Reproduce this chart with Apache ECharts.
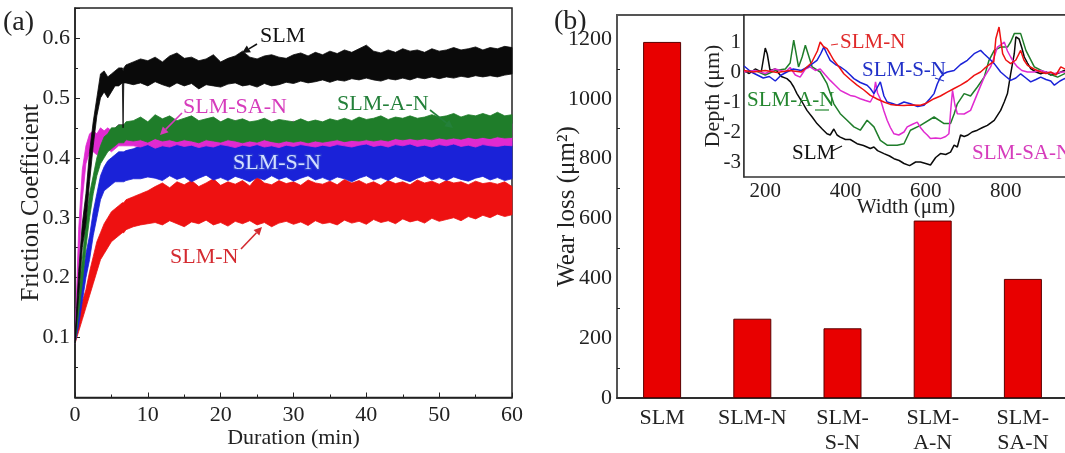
<!DOCTYPE html>
<html>
<head>
<meta charset="utf-8">
<script src="https://cdn.jsdelivr.net/npm/echarts@6/dist/echarts.min.js"></script>
<style>
html,body{margin:0;padding:0;background:#fff}
#chart{width:1065px;height:453px}
</style>
</head>
<body>
<div id="chart"></div>
<script>
// ---------- (a) friction coefficient: lower / upper envelope of each noisy trace ----------
const minutes = [0,0.5,1,1.5,2,2.5,3,3.5,4,4.5,5,5.5,6,6.5,6.6,6.7,7,
  8,9,10,11,12,13,14,15,16,17,18,19,20,21,22,23,24,25,26,27,28,29,30,31,32,33,34,35,36,37,38,39,40,
  41,42,43,44,45,46,47,48,49,50,51,52,53,54,55,56,57,58,59,60];

const slmLo = [.09,.17,.25,.29,.36,.42,.47,.50,.51,.50,.51,.52,.52,.525,.45,.525,.525,
  .522,.525,.520,.527,.522,.518,.525,.520,.524,.515,.522,.520,.518,.523,.525,.520,.522,.518,.524,.520,
  .522,.526,.524,.528,.525,.527,.530,.526,.530,.528,.532,.530,.533,.530,.528,.532,.530,.533,.530,.534,
  .532,.535,.532,.535,.533,.536,.534,.537,.535,.537,.535,.538,.540];
const slmHi = [.10,.21,.29,.34,.41,.46,.50,.54,.545,.535,.54,.545,.55,.55,.545,.55,.555,
  .560,.565,.562,.568,.560,.570,.575,.566,.568,.562,.565,.572,.560,.566,.570,.578,.568,.565,.570,.572,
  .568,.566,.572,.575,.570,.576,.572,.578,.574,.580,.576,.582,.588,.578,.575,.580,.576,.582,.578,.580,
  .576,.582,.578,.580,.584,.580,.582,.585,.580,.584,.582,.586,.584];

const slmANLo = [.09,.14,.19,.25,.30,.34,.37,.39,.40,.41,.415,.42,.425,.425,.425,.425,.43,
  .428,.430,.426,.432,.428,.430,.427,.430,.428,.425,.430,.428,.426,.430,.428,.425,.428,.426,.430,.427,
  .425,.428,.426,.428,.425,.428,.426,.428,.430,.427,.429,.428,.430,.428,.430,.428,.432,.430,.432,.430,
  .432,.430,.433,.431,.433,.431,.434,.432,.434,.432,.435,.433,.434];
const slmANHi = [.10,.17,.23,.29,.34,.37,.40,.42,.435,.44,.45,.45,.455,.455,.455,.455,.46,
  .462,.468,.460,.472,.465,.470,.462,.466,.470,.462,.465,.468,.460,.466,.462,.465,.460,.462,.466,.460,
  .464,.462,.460,.465,.460,.463,.460,.465,.462,.466,.462,.468,.464,.466,.470,.464,.468,.466,.470,.466,
  .468,.472,.468,.470,.474,.468,.472,.470,.474,.470,.476,.470,.472];

const slmSANLo = [.09,.22,.33,.39,.41,.41,.405,.41,.41,.415,.41,.415,.42,.42,.42,.42,.42,
  .420,.418,.422,.416,.420,.418,.422,.419,.421,.417,.420,.418,.422,.420,.417,.421,.419,.422,.418,.420,
  .417,.421,.419,.422,.420,.418,.421,.419,.422,.420,.418,.421,.423,.419,.421,.418,.422,.420,.423,.419,
  .421,.418,.422,.420,.423,.419,.421,.418,.422,.420,.419,.421,.420];
const slmSANHi = [.10,.28,.38,.42,.44,.445,.44,.45,.445,.45,.445,.45,.455,.455,.455,.455,.455,
  .455,.460,.452,.458,.462,.455,.459,.454,.461,.456,.458,.452,.460,.456,.462,.455,.458,.453,.460,.456,
  .459,.454,.461,.457,.455,.460,.458,.462,.456,.459,.454,.461,.458,.463,.456,.460,.455,.462,.458,.461,
  .456,.463,.458,.460,.455,.462,.457,.460,.456,.461,.458,.460,.457];

const slmSNLo = [.09,.12,.16,.20,.23,.27,.30,.33,.345,.35,.355,.36,.36,.36,.36,.36,.362,
  .365,.365,.368,
  .366,.362,.370,.364,.368,.360,.366,.371,.363,.367,.362,.369,.365,.360,.367,.363,.370,.364,.368,.361,
  .366,.370,.363,.367,.362,.368,.365,.360,.366,.370,.363,.367,.362,.369,.364,.360,.366,.370,.363,.367,
  .362,.368,.364,.361,.366,.369,.363,.367,.362,.365];
const slmSNHi = [.10,.15,.20,.24,.27,.31,.34,.37,.385,.395,.40,.405,.41,.41,.41,.41,.412,
  .415,.420,.422,
  .428,.432,.425,.430,.434,.427,.431,.426,.433,.428,.430,.425,.432,.428,.435,.427,.430,.424,.431,.428,
  .433,.426,.430,.427,.432,.428,.434,.426,.430,.428,.433,.425,.431,.427,.432,.428,.430,.426,.433,.428,
  .431,.425,.430,.427,.432,.428,.429,.426,.431,.428];

const slmNLo = [.09,.11,.13,.15,.17,.19,.21,.23,.24,.25,.26,.265,.27,.275,.275,.275,.28,
  .285,.288,.290,
  .292,.288,.295,.290,.285,.293,.290,.296,.288,.292,.286,.294,.290,.295,.288,.292,.285,.291,.294,.289,
  .293,.287,.295,.290,.292,.288,.296,.291,.294,.289,.297,.292,.295,.290,.298,.293,.296,.291,.299,.294,
  .297,.300,.295,.302,.298,.304,.300,.306,.302,.305];
const slmNHi = [.10,.13,.16,.18,.21,.235,.26,.275,.29,.30,.31,.315,.32,.325,.325,.325,.33,
  .335,.340,.345,
  .352,.358,.350,.360,.355,.362,.352,.358,.365,.354,.360,.356,.362,.353,.368,.358,.355,.362,.357,.360,
  .354,.363,.358,.356,.361,.355,.364,.358,.362,.356,.360,.354,.362,.357,.360,.355,.363,.358,.361,.356,
  .362,.358,.360,.355,.361,.357,.359,.356,.360,.352];

// ---------- (b) wear loss ----------
const samples = ['SLM', 'SLM-N', 'SLM-\nS-N', 'SLM-\nA-N', 'SLM-\nSA-N'];
const wearLoss = [1190, 265, 233, 593, 398];

// ---------- (b) inset: cross-section depth profiles of the wear tracks ----------
const slmW = [147,160,175,190,200,205,212,225,240,254,263,271,279,292,304,317,329,342,354,362,371,379,387,400,412,
  429,445,462,471,480,496,510,521,534,546,560,575,587,600,612,625,637,650,662,671,679,687,696,704,716,729,742,754,
  771,787,796,804,812,821,825,833,840,846,854,862,875,887,900,912,929,946,955];
const slmD = [0.05,-0.05,0.1,0.0,0.8,0.6,0.05,0.1,-0.15,-0.22,-0.33,-0.5,-0.72,-1.0,-1.28,-1.5,-1.72,-1.9,-2.06,-2.1,
  -1.9,-2.1,-2.17,-2.25,-2.25,-2.39,-2.45,-2.55,-2.5,-2.62,-2.72,-2.8,-2.89,-2.95,-3.05,-3.12,-3.0,-3.0,-3.05,-3.1,
  -2.85,-2.72,-2.75,-2.67,-2.44,-2.5,-2.1,-2.15,-2.11,-2.0,-1.94,-1.85,-1.78,-1.61,-1.28,-1.0,-0.72,-0.06,0.61,1.17,
  1.1,0.8,0.5,0.3,0.11,0.0,-0.06,0.0,-0.1,-0.05,0.05,0.0];

const slmNW = [147,170,200,230,260,290,315,330,337,345,354,362,371,385,396,412,429,446,462,479,496,512,529,546,562,
  587,600,621,637,654,671,687,704,721,737,746,762,770,775,783,792,800,812,825,837,845,854,870,887,900,912,925,937,955];
const slmND = [0.05,0.0,0.05,-0.02,0.05,0.0,0.3,0.7,1.0,0.85,0.78,0.6,0.39,0.15,-0.06,-0.25,-0.44,-0.6,-0.78,-0.9,
  -1.0,-1.08,-1.11,-1.12,-1.1,-1.11,-1.05,-0.89,-0.8,-0.67,-0.55,-0.44,-0.3,-0.11,0.0,0.11,0.28,0.35,1.11,1.5,
  0.61,0.4,0.28,0.4,0.72,0.4,0.22,0.1,0.0,-0.05,0.0,-0.1,0.17,0.05];

const slmSNW = [147,165,180,195,210,225,240,254,270,290,310,329,338,346,354,362,375,387,400,412,421,437,454,462,471,
  480,487,496,504,517,529,546,562,580,596,610,621,629,637,646,654,671,687,704,721,737,746,754,762,771,787,800,812,
  825,837,850,862,875,887,900,912,921,935,946,955];
const slmSND = [0.2,0.0,-0.1,-0.2,-0.15,-0.3,-0.1,0.0,0.1,0.05,0.2,0.39,0.6,0.83,0.6,0.39,0.25,0.17,0.05,-0.1,
  -0.22,-0.35,-0.44,-0.55,-0.72,-0.5,-0.33,-0.8,-1.0,-1.05,-1.11,-1.0,-1.06,-1.15,-1.11,-0.9,-0.72,-0.4,-0.17,-0.05,
  0.0,0.05,0.25,0.39,0.61,0.72,0.6,0.5,0.4,0.28,0.0,-0.15,-0.28,-0.2,-0.06,-0.2,-0.33,-0.25,-0.17,-0.25,
  -0.3,-0.44,-0.3,-0.22,-0.25];

const slmANW = [147,175,200,225,250,262,271,283,292,300,317,337,354,371,387,404,421,437,454,471,487,504,529,546,562,
  587,621,646,662,671,679,696,712,729,746,758,771,787,804,812,821,837,850,871,896,929,955];
const slmAND = [0.0,0.05,-0.1,0.05,0.1,0.3,1.06,0.17,0.5,0.89,0.17,0.0,-0.39,-1.06,-1.39,-1.61,-1.83,-1.94,-1.61,-1.83,
  -2.28,-2.44,-2.44,-2.39,-1.94,-1.78,-1.5,-1.72,-1.72,-1.4,-1.06,-0.72,-0.8,-0.5,-0.17,0.39,0.72,0.83,0.83,1.0,
  1.28,1.28,0.72,0.17,0.0,-0.17,0.0];

const slmSANW = [147,175,200,225,250,262,275,287,300,312,325,337,350,362,375,387,400,412,425,437,450,462,470,475,480,
  487,496,504,512,521,533,546,554,566,579,587,596,604,612,625,637,650,658,663,667,673,679,696,712,729,746,762,771,
  779,787,796,804,812,821,829,840,854,870,887,900,921,940,955];
const slmSAND = [0.0,0.05,-0.05,0.1,0.0,0.15,-0.1,-0.17,0.1,0.17,0.05,0.1,-0.1,-0.28,-0.45,-0.61,-0.7,-0.78,-0.82,-0.89,
  -0.95,-1.0,-0.8,-0.33,-0.7,-0.9,-1.3,-1.61,-1.85,-2.06,-2.1,-2.0,-1.83,-1.75,-1.67,-1.85,-2.0,-2.1,-2.22,-2.2,
  -2.22,-2.15,-2.06,-1.2,-0.61,-1.1,-1.39,-1.4,-1.28,-0.72,-0.17,0.17,0.5,0.83,0.9,1.0,0.7,0.5,0.3,0.17,
  0.05,0.0,0.0,0.05,0.0,-0.05,0.0,0.0];

// ---------- styling ----------
const SERIF = '"Liberation Serif", "Times New Roman", serif';
const C = { black: '#0a0a0a', red: '#ee1111', blue: '#1a22d8', green: '#1f7d2a', magenta: '#e02ad0' };
const txt = (size, color) => ({ fontFamily: SERIF, fontSize: size, color: color || '#222' });
const axisLine = { lineStyle: { color: '#222', width: 1.5 } };

// filled envelope drawn as one polygon through the axis scales
function band(name, lo, hi, color) {
  const rows = minutes.map((t, i) => [t, lo[i], hi[i]]);
  return {
    type: 'custom', name, xAxisIndex: 0, yAxisIndex: 0, data: rows,
    encode: { x: 0, y: [1, 2] }, silent: true,
    renderItem(params, api) {
      if (params.dataIndex !== 0) return null;
      const top = rows.map(r => api.coord([r[0], r[2]]));
      const bottom = rows.map(r => api.coord([r[0], r[1]])).reverse();
      return {
        type: 'polygon',
        shape: { points: top.concat(bottom) },
        style: { fill: color, stroke: color, lineWidth: 0.8 }
      };
    }
  };
}

function profile(name, w, d, color) {
  return {
    type: 'line', name, xAxisIndex: 2, yAxisIndex: 2, showSymbol: false, silent: true,
    data: w.map((x, i) => [x, d[i]]),
    lineStyle: { color, width: 1.5 }, z: 5
  };
}

function arrow(x1, y1, x2, y2, color) {
  const a = Math.atan2(y2 - y1, x2 - x1), L = 8, W = 4;
  const bx = x2 - L * Math.cos(a), by = y2 - L * Math.sin(a);
  const px = -Math.sin(a) * W, py = Math.cos(a) * W;
  return [
    { type: 'line', shape: { x1, y1, x2: bx, y2: by }, style: { stroke: color, lineWidth: 1.6 }, z: 100 },
    { type: 'polygon', shape: { points: [[x2, y2], [bx + px, by + py], [bx - px, by - py]] }, style: { fill: color }, z: 100 }
  ];
}
function label(text, x, y, size, color, extra) {
  return {
    type: 'text', x, y, z: 100,
    style: Object.assign({ text, fill: color, font: size + 'px ' + SERIF, verticalAlign: 'middle' }, extra || {})
  };
}

const chart = echarts.init(document.getElementById('chart'), null, { renderer: 'canvas' });

chart.setOption({
  animation: false,
  backgroundColor: '#fff',
  grid: [
    { left: 75, top: 8, width: 437, height: 389.5, show: true, borderColor: '#222', borderWidth: 1.5, outerBoundsMode: 'none', containLabel: false },
    { left: 617, top: 15, right: -3, height: 383, show: true, borderColor: '#555', borderWidth: 2, outerBoundsMode: 'none', containLabel: false },
    { left: 744, top: 15, right: -3, height: 162, show: true, backgroundColor: '#fff', borderColor: '#333', borderWidth: 1.5, z: 3, outerBoundsMode: 'none', containLabel: false }
  ],
  xAxis: [
    {
      gridIndex: 0, type: 'value', min: 0, max: 60, interval: 10,
      axisLine, splitLine: { show: false },
      axisTick: { inside: true, length: 5, lineStyle: { color: '#222' } },
      minorTick: { show: true, splitNumber: 2, length: 3, lineStyle: { color: '#222' } },
      axisLabel: Object.assign(txt(22), { margin: 7 }),
      name: 'Duration (min)', nameLocation: 'middle', nameGap: 30, nameMoveOverlap: false, nameTextStyle: txt(22)
    },
    {
      gridIndex: 1, type: 'category', data: samples,
      axisLine, axisTick: { show: false },
      axisLabel: Object.assign(txt(22), { interval: 0, margin: 8, lineHeight: 25 })
    },
    {
      gridIndex: 2, type: 'value', min: 147, max: 955,
      axisLine, splitLine: { show: false },
      axisTick: { inside: true, length: 4, customValues: [200, 300, 400, 500, 600, 700, 800, 900], lineStyle: { color: '#222' } },
      axisLabel: Object.assign(txt(21), { margin: 4, customValues: [200, 400, 600, 800] }),
      name: 'Width (μm)', nameLocation: 'middle', nameGap: 20, nameMoveOverlap: false, nameTextStyle: txt(21)
    }
  ],
  yAxis: [
    {
      gridIndex: 0, type: 'value', min: 0, max: 0.65, interval: 0.1,
      axisLine, splitLine: { show: false },
      axisTick: { inside: true, length: 5, lineStyle: { color: '#222' } },
      minorTick: { show: true, splitNumber: 2, length: 3, lineStyle: { color: '#222' } },
      axisLabel: Object.assign(txt(22), { margin: 5, formatter: v => (v > 0.05 && v < 0.62) ? v.toFixed(1) : '' }),
      name: 'Friction Coefficient', nameLocation: 'middle', nameGap: 31, nameMoveOverlap: false, nameTextStyle: txt(25)
    },
    {
      gridIndex: 1, type: 'value', min: 0, max: 1280, interval: 200,
      axisLine, splitLine: { show: false },
      axisTick: { inside: true, length: 5, lineStyle: { color: '#222' } },
      minorTick: { show: true, splitNumber: 2, length: 3, lineStyle: { color: '#222' } },
      axisLabel: Object.assign(txt(22), { margin: 5, formatter: v => v <= 1200 ? String(v) : '' }),
      name: 'Wear loss (μm²)', nameLocation: 'middle', nameGap: 37, nameMoveOverlap: false, nameTextStyle: txt(25)
    },
    {
      gridIndex: 2, type: 'value', min: -3.5, max: 1.9,
      axisLine, splitLine: { show: false },
      axisTick: { inside: true, length: 4, customValues: [-3, -2.5, -2, -1.5, -1, -0.5, 0, 0.5, 1, 1.5], lineStyle: { color: '#222' } },
      axisLabel: Object.assign(txt(21), { margin: 3, customValues: [-3, -2, -1, 0, 1] }),
      name: 'Depth (μm)', nameLocation: 'middle', nameGap: 20, nameMoveOverlap: false, nameTextStyle: txt(22)
    }
  ],
  series: [
    band('SLM-N', slmNLo, slmNHi, C.red),
    band('SLM-S-N', slmSNLo, slmSNHi, C.blue),
    band('SLM-SA-N', slmSANLo, slmSANHi, C.magenta),
    band('SLM-A-N', slmANLo, slmANHi, C.green),
    band('SLM', slmLo, slmHi, C.black),
    {
      type: 'bar', xAxisIndex: 1, yAxisIndex: 1, data: wearLoss, barWidth: 38, silent: true,
      itemStyle: { color: '#e80000', borderColor: '#5a0000', borderWidth: 1 }
    },
    profile('SLM', slmW, slmD, C.black),
    profile('SLM-A-N', slmANW, slmAND, C.green),
    profile('SLM-SA-N', slmSANW, slmSAND, C.magenta),
    profile('SLM-S-N', slmSNW, slmSND, C.blue),
    profile('SLM-N', slmNW, slmND, C.red)
  ],
  graphic: [
    label('(a)', 3, 23, 28, '#222'),
    label('(b)', 554, 22, 28, '#222'),
    // (a) trace labels
    label('SLM', 260, 36, 22, '#111'),
    ...arrow(257, 44, 242, 53, '#111'),
    label('SLM-SA-N', 183, 107, 22, '#d63cbc'),
    ...arrow(182, 113, 160, 135, '#d63cbc'),
    label('SLM-A-N', 337, 104, 22, '#24803a'),
    ...arrow(430, 110, 453, 128, '#24803a'),
    label('SLM-S-N', 233, 163, 22, '#d4e0ff', { stroke: '#2a3ad0', lineWidth: 2.5, strokeFirst: true }),
    label('SLM-N', 170, 257, 22, '#d42a30'),
    ...arrow(241, 249, 262, 227, '#d42a30'),
    // inset labels
    label('SLM-N', 840, 42, 21, '#e02a2a'),
    { type: 'line', shape: { x1: 831, y1: 45, x2: 838, y2: 44 }, style: { stroke: '#e02a2a', lineWidth: 1.2 }, z: 100 },
    label('SLM-S-N', 862, 70, 21, '#2030c8'),
    { type: 'line', shape: { x1: 935, y1: 78, x2: 944, y2: 81 }, style: { stroke: '#2030c8', lineWidth: 1.2 }, z: 100 },
    label('SLM-A-N', 747, 100, 21, '#23862e'),
    { type: 'line', shape: { x1: 815, y1: 110, x2: 829, y2: 110 }, style: { stroke: '#23862e', lineWidth: 1.2 }, z: 100 },
    label('SLM', 792, 153, 21, '#111'),
    { type: 'line', shape: { x1: 832, y1: 151, x2: 842, y2: 146 }, style: { stroke: '#111', lineWidth: 1.2 }, z: 100 },
    label('SLM-SA-N', 972, 153, 21, '#d63cbc')
  ]
});
</script>
</body>
</html>
